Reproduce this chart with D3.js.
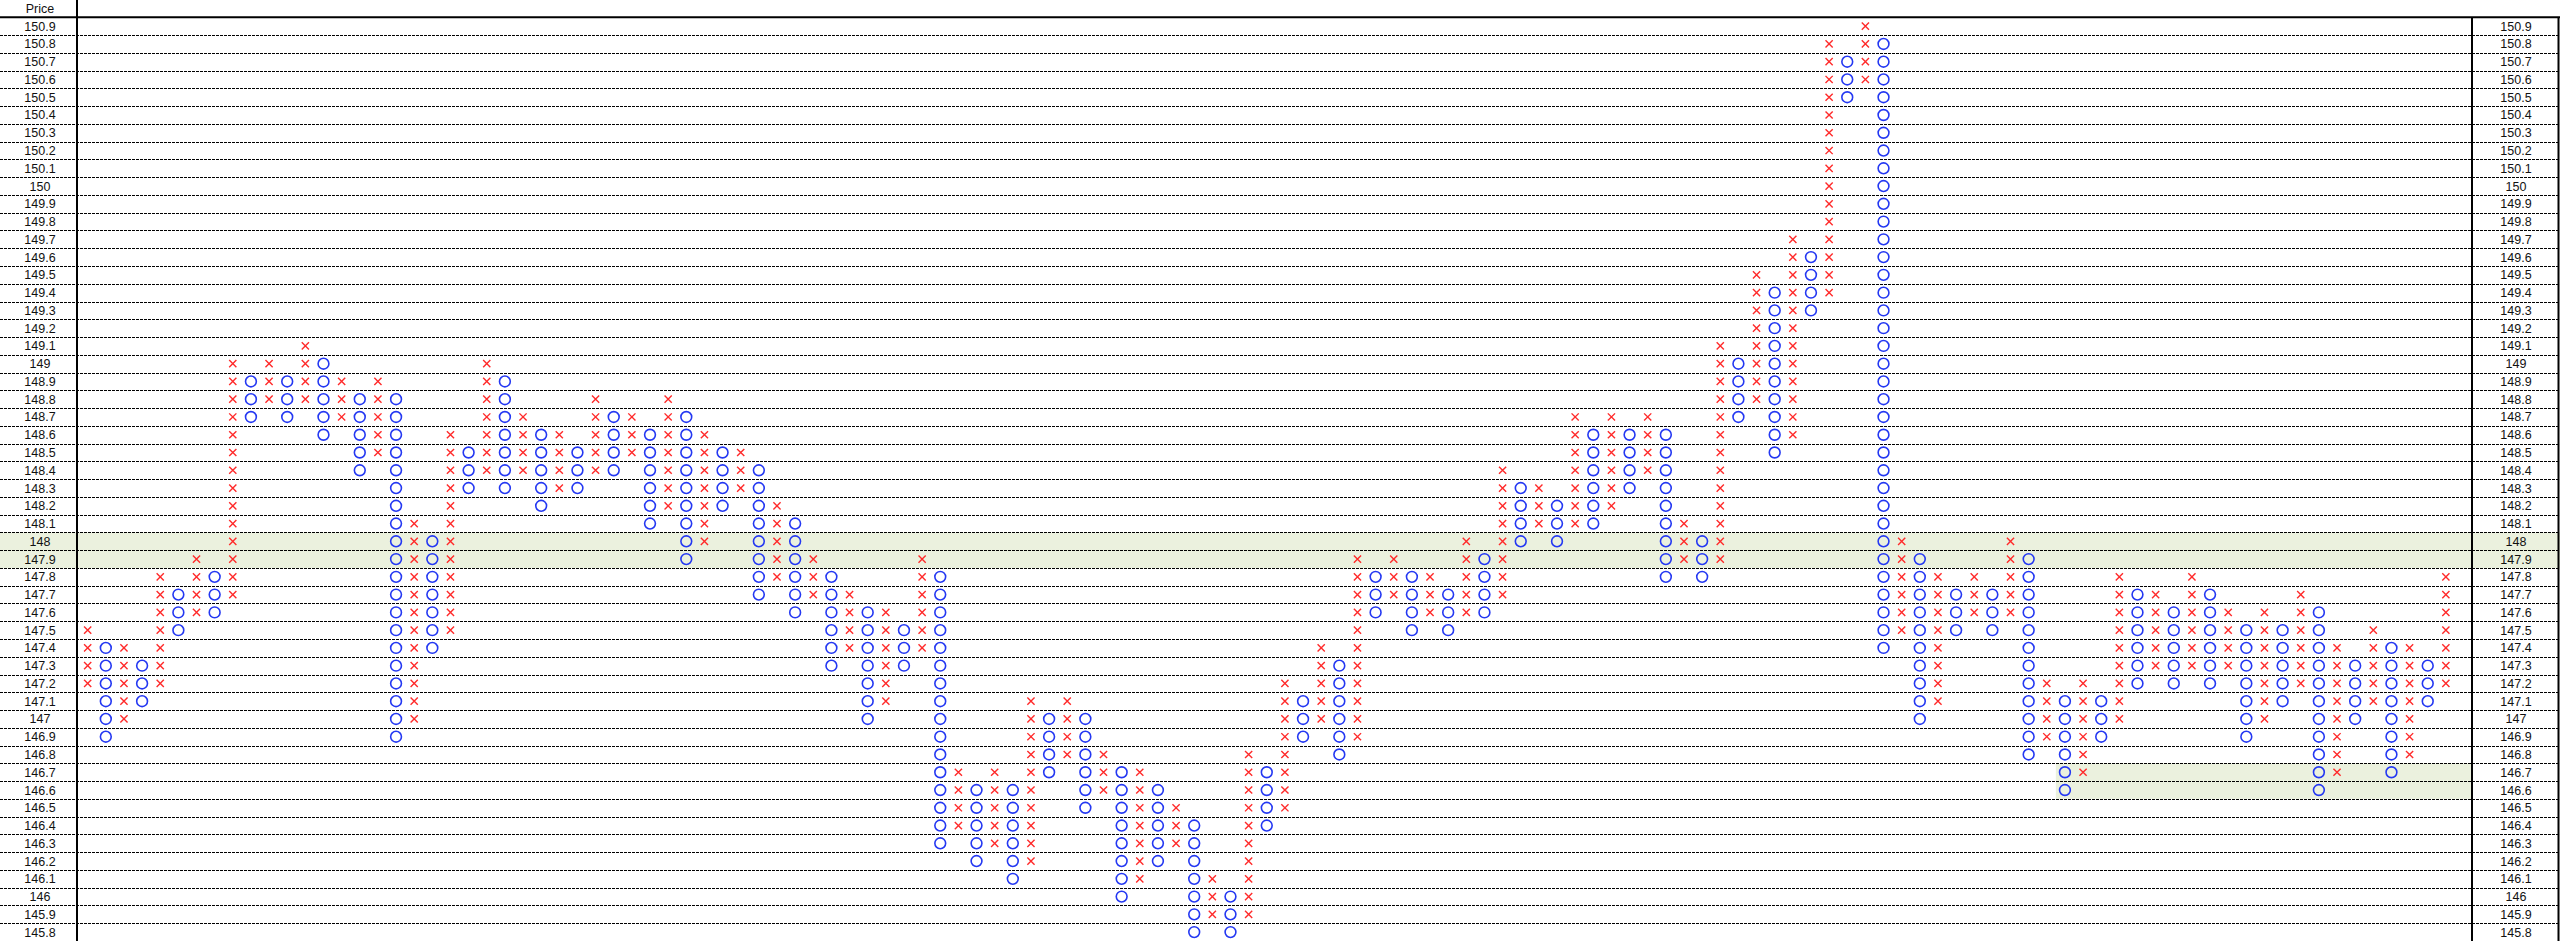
<!DOCTYPE html>
<html>
<head>
<meta charset="utf-8">
<script src="https://cdn.jsdelivr.net/npm/d3@7"></script>
<style>
  html, body { margin: 0; padding: 0; background: #fff; }
  svg { display: block; }
  text { font-family: "Liberation Sans", Arial, sans-serif; font-size: 12.5px; fill: #111; }
</style>
</head>
<body>
<script>
// ---- Data ----
const priceLabels = ["150.9","150.8","150.7","150.6","150.5","150.4","150.3","150.2","150.1","150",
  "149.9","149.8","149.7","149.6","149.5","149.4","149.3","149.2","149.1","149",
  "148.9","148.8","148.7","148.6","148.5","148.4","148.3","148.2","148.1","148",
  "147.9","147.8","147.7","147.6","147.5","147.4","147.3","147.2","147.1","147",
  "146.9","146.8","146.7","146.6","146.5","146.4","146.3","146.2","146.1","146",
  "145.9","145.8"];

const colType = ["X","O","X","O","X","O","X","O","X","O","X","O","X","O","X","O","X","O","X","O",
  "X","O","X","O","X","O","X","O","X","O","X","O","X","O","X","O","X","O","X","O",
  "X","O","X","O","X","O","X","O","X","O","X","O","X","O","X","O","X","O","X","O",
  "X","O","X","O","X","O","X","O","X","O","X","O","X","O","X","O","X","O","X","O",
  "X","O","X","O","X","O","X","O","X","O","X","O","X","O","X","O","X","O","X","O",
  "X","O","X","O","X","O","X","O","X","O","X","O","X","O","X","O","X","O","X","O",
  "X","O","X","O","X","O","X","O","X","O","X"];

const colHigh = [147.5,147.4,147.4,147.3,147.8,147.7,147.9,147.8,149.0,148.9,
  149.0,148.9,149.1,149.0,148.9,148.8,148.9,148.8,148.1,148.0,
  148.6,148.5,149.0,148.9,148.7,148.6,148.6,148.5,148.8,148.7,
  148.7,148.6,148.8,148.7,148.6,148.5,148.5,148.4,148.2,148.1,
  147.9,147.8,147.7,147.6,147.6,147.5,147.9,147.8,146.7,146.6,
  146.7,146.6,147.1,147.0,147.1,147.0,146.8,146.7,146.7,146.6,
  146.5,146.4,146.1,146.0,146.8,146.7,147.2,147.1,147.4,147.3,
  147.9,147.8,147.9,147.8,147.8,147.7,148.0,147.9,148.4,148.3,
  148.3,148.2,148.7,148.6,148.7,148.6,148.7,148.6,148.1,148.0,
  149.1,149.0,149.5,149.4,149.7,149.6,150.8,150.7,150.9,150.8,
  148.0,147.9,147.8,147.7,147.8,147.7,148.0,147.9,147.2,147.1,
  147.2,147.1,147.8,147.7,147.7,147.6,147.8,147.7,147.6,147.5,
  147.6,147.5,147.7,147.6,147.4,147.3,147.5,147.4,147.4,147.3,
  147.8];

const colLow = [147.2,146.9,147.0,147.1,147.2,147.5,147.6,147.6,147.7,148.7,
  148.8,148.7,148.8,148.6,148.7,148.4,148.5,146.9,147.0,147.4,
  147.5,148.3,148.4,148.3,148.4,148.2,148.3,148.3,148.4,148.4,
  148.5,148.1,148.2,147.9,148.0,148.2,148.3,147.7,147.8,147.6,
  147.7,147.3,147.4,147.0,147.1,147.3,147.4,146.3,146.4,146.2,
  146.3,146.1,146.2,146.7,146.8,146.5,146.6,146.0,146.1,146.2,
  146.3,145.8,145.9,145.8,145.9,146.4,146.5,146.9,147.0,146.8,
  146.9,147.6,147.7,147.5,147.6,147.5,147.6,147.6,147.7,148.0,
  148.1,148.0,148.1,148.1,148.2,148.3,148.4,147.8,147.9,147.8,
  147.9,148.7,148.8,148.5,148.6,149.3,149.4,150.5,150.6,147.4,
  147.5,147.0,147.1,147.5,147.6,147.5,147.6,146.8,146.9,146.6,
  146.7,146.9,147.0,147.2,147.3,147.2,147.3,147.2,147.3,146.9,
  147.0,147.1,147.2,146.6,146.7,147.0,147.1,146.7,146.8,147.1,
  147.2];

// highlighted price bands (top price, bottom price, first column or null for whole width)
const bandTop = [148.0, 146.7];
const bandBottom = [147.9, 146.6];
const bandFromCol = [null, 109];

// ---- Layout ----
const W = 2560, H = 941;
const headerH = 17.3;
const leftAxisX = 77, rightAxisX = 2472;
const colSlots = 132;

const svg = d3.select("body").append("svg").attr("width", W).attr("height", H);
svg.append("rect").attr("width", W).attr("height", H).attr("fill", "#fff");

const tenths = p => Math.round(p * 10);
const rowKeys = priceLabels.map(l => tenths(+l));

const y = d3.scaleBand().domain(rowKeys).range([headerH, H]).paddingInner(0).paddingOuter(0);
const x = d3.scaleBand().domain(d3.range(colSlots)).range([leftAxisX + 1.6, leftAxisX + 1.6 + colSlots * 18.14]).padding(0);
const bw = x.bandwidth(), bh = y.bandwidth();

// Bands
const bands = bandTop.map((t, i) => ({ t, b: bandBottom[i], c: bandFromCol[i] }));
svg.append("g").selectAll("rect").data(bands).join("rect")
  .attr("x", d => d.c == null ? 0 : x(d.c))
  .attr("width", d => d.c == null ? W : rightAxisX - x(d.c))
  .attr("y", d => y(tenths(d.t)))
  .attr("height", d => y(tenths(d.b)) + bh - y(tenths(d.t)))
  .attr("fill", "#ebf1de");

// Dashed row lines
svg.append("g").selectAll("line").data(rowKeys.slice(1)).join("line")
  .attr("x1", 0).attr("x2", W)
  .attr("y1", d => Math.round(y(d)) + 0.5).attr("y2", d => Math.round(y(d)) + 0.5)
  .attr("stroke", "#000").attr("stroke-width", 1).attr("stroke-dasharray", "3,1");

// Frame lines
svg.append("line").attr("x1", 0).attr("x2", W).attr("y1", headerH).attr("y2", headerH)
  .attr("stroke", "#000").attr("stroke-width", 2);
svg.append("line").attr("x1", leftAxisX).attr("x2", leftAxisX).attr("y1", 0).attr("y2", H)
  .attr("stroke", "#000").attr("stroke-width", 2);
svg.append("line").attr("x1", rightAxisX).attr("x2", rightAxisX).attr("y1", headerH).attr("y2", H)
  .attr("stroke", "#000").attr("stroke-width", 2);
svg.append("line").attr("x1", W - 1.5).attr("x2", W - 1.5).attr("y1", headerH).attr("y2", H)
  .attr("stroke", "#000").attr("stroke-width", 2);

// Axis labels
svg.append("text").attr("x", 40).attr("y", headerH / 2).attr("dy", "0.35em")
  .attr("text-anchor", "middle").text("Price");
const lab = svg.append("g");
lab.selectAll("text.l").data(priceLabels).join("text").attr("class", "l")
  .attr("x", 40).attr("y", d => y(tenths(+d)) + bh / 2).attr("dy", "0.36em")
  .attr("text-anchor", "middle").text(d => d);
lab.selectAll("text.r").data(priceLabels).join("text").attr("class", "r")
  .attr("x", 2516).attr("y", d => y(tenths(+d)) + bh / 2).attr("dy", "0.36em")
  .attr("text-anchor", "middle").text(d => d);

// Boxes
const boxes = [];
colType.forEach((t, c) => {
  for (let k = tenths(colLow[c]); k <= tenths(colHigh[c]); k++) boxes.push({ c, k, t });
});

const marks = svg.append("g");
const xs = 3.6;
marks.selectAll("path").data(boxes.filter(d => d.t === "X")).join("path")
  .attr("d", d => {
    const cx = x(d.c) + bw / 2, cy = y(d.k) + bh / 2;
    return `M${cx - xs},${cy - xs}L${cx + xs},${cy + xs}M${cx - xs},${cy + xs}L${cx + xs},${cy - xs}`;
  })
  .attr("stroke", "#ff2a2a").attr("stroke-width", 1.4).attr("fill", "none");
marks.selectAll("circle").data(boxes.filter(d => d.t === "O")).join("circle")
  .attr("cx", d => x(d.c) + bw / 2).attr("cy", d => y(d.k) + bh / 2)
  .attr("r", 5.4).attr("fill", "none").attr("stroke", "#2438f2").attr("stroke-width", 1.6);
</script>
</body>
</html>
